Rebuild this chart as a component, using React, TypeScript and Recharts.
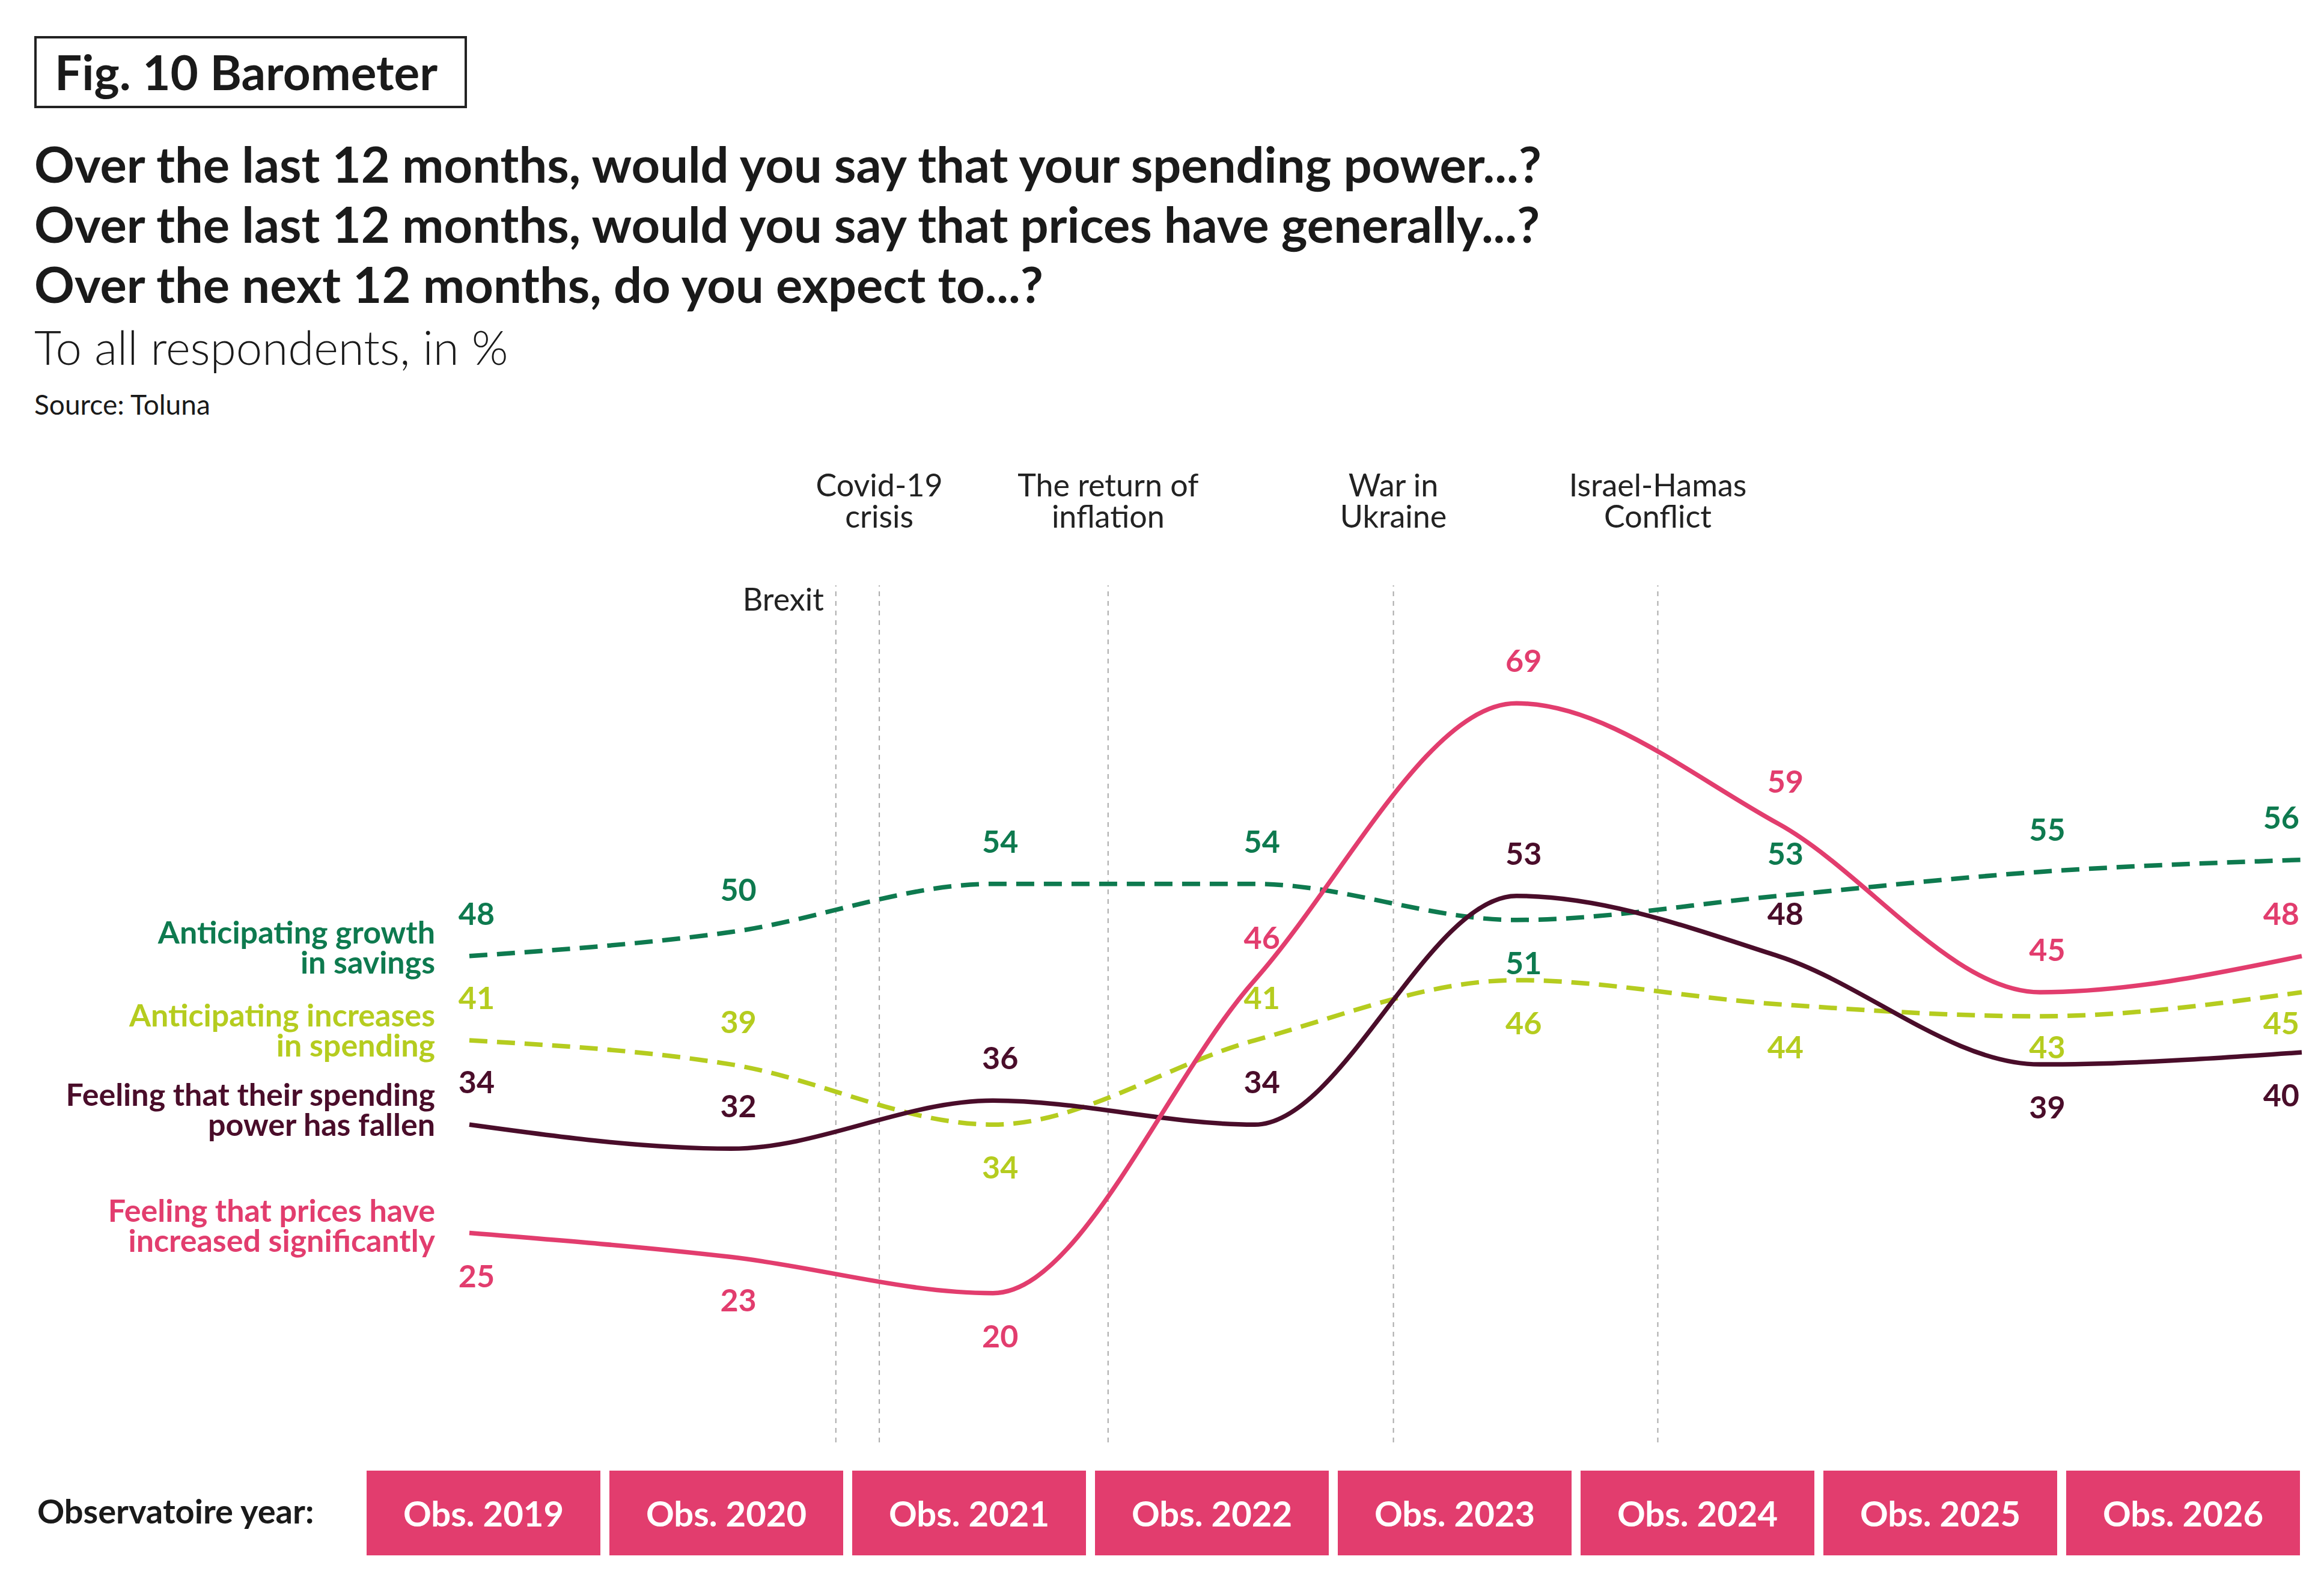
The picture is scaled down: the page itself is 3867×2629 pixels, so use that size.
import React from 'react'
import { LineChart, Line, XAxis, YAxis, ReferenceLine, LabelList } from 'recharts'

const years = ['Obs. 2019', 'Obs. 2020', 'Obs. 2021', 'Obs. 2022', 'Obs. 2023', 'Obs. 2024', 'Obs. 2025', 'Obs. 2026']
const prices = [25, 23, 20, 46, 69, 59, 45, 48]
const fallen = [34, 32, 36, 34, 53, 48, 39, 40]
const savings = [48, 50, 54, 54, 51, 53, 55, 56]
const spending = [41, 39, 34, 41, 46, 44, 43, 45]

// +1 = label above the point, -1 = below
const pricesPos = [-1, -1, -1, 1, 1, 1, 1, 1]
const fallenPos = [1, 1, 1, 1, 1, 1, -1, -1]
const savingsPos = [1, 1, 1, 1, -1, 1, 1, 1]
const spendingPos = [1, 1, -1, 1, -1, -1, -0.6, -0.6]

const events = [
  { x: 1.4, lines: ['Brexit'], low: true },
  { x: 1.566, lines: ['Covid-19', 'crisis'] },
  { x: 2.44, lines: ['The return of', 'inflation'] },
  { x: 3.53, lines: ['War in', 'Ukraine'] },
  { x: 4.54, lines: ['Israel-Hamas', 'Conflict'] },
]

const PINK = '#E23D6E'
const DARK = '#4A0D2A'
const GREEN = '#0E7A4F'
const LIME = '#B5CC1F'
const FONT = 'Lato, "Noto Sans", sans-serif'

const data = years.map((y, i) => ({
  i,
  prices: prices[i],
  fallen: fallen[i],
  savings: savings[i],
  spending: spending[i],
}))

const seriesNames = [
  { lines: ['Anticipating growth', 'in savings'], color: GREEN, top: 1525 },
  { lines: ['Anticipating increases', 'in spending'], color: LIME, top: 1663 },
  { lines: ['Feeling that their spending', 'power has fallen'], color: DARK, top: 1795 },
  { lines: ['Feeling that prices have', 'increased significantly'], color: PINK, top: 1988 },
]

const W = 3867
const H = 2629
const ML = 781
const MR = 37
const MT = 974
const MB = 229
const plotW = W - ML - MR

function makeLabel(color: string, pos: number[]) {
  return (props: any) => {
    const { x, y, value, index } = props
    const last = index === 7
    const p = pos[index]
    return (
      <text
        x={last ? x - 4 : x + 12}
        y={p > 0 ? y - 52 : y - p * 50 + 40}
        fill={color}
        fontSize={52}
        fontWeight={700}
        fontFamily={FONT}
        textAnchor={last ? 'end' : 'middle'}
      >
        {value}
      </text>
    )
  }
}

export default function App() {
  const seriesList = [
    { key: 'savings', color: GREEN, dash: '30 16', pos: savingsPos },
    { key: 'spending', color: LIME, dash: '30 16', pos: spendingPos },
    { key: 'fallen', color: DARK, dash: undefined, pos: fallenPos },
    { key: 'prices', color: PINK, dash: undefined, pos: pricesPos },
  ]
  return (
    <div style={{ position: 'absolute', left: 0, top: 0, width: W, height: H, background: '#fff', fontFamily: FONT, color: '#1a1a1a' }}>
      <div style={{ position: 'absolute', left: 57, top: 60, width: 720, height: 120, border: '4px solid #222', boxSizing: 'border-box', fontSize: 80, fontWeight: 700, lineHeight: '110px', paddingLeft: 30 }}>
        Fig. 10 Barometer
      </div>
      <div style={{ position: 'absolute', left: 57, top: 222, fontSize: 83, fontWeight: 700, lineHeight: '100px', whiteSpace: 'nowrap' }}>
        <div>Over the last 12 months, would you say that your spending power...?</div>
        <div>Over the last 12 months, would you say that prices have generally...?</div>
        <div>Over the next 12 months, do you expect to...?</div>
      </div>
      <div style={{ position: 'absolute', left: 57, top: 530, fontSize: 78, fontWeight: 300 }}>To all respondents, in %</div>
      <div style={{ position: 'absolute', left: 57, top: 645, fontSize: 46 }}>Source: Toluna</div>

      {seriesNames.map((s) => (
        <div key={s.lines[0]} style={{ position: 'absolute', right: W - 724, top: s.top, color: s.color, fontSize: 52, fontWeight: 700, lineHeight: '50px', textAlign: 'right', whiteSpace: 'nowrap' }}>
          {s.lines.map((l) => <div key={l}>{l}</div>)}
        </div>
      ))}

      {events.map((e) => {
        const cx = ML + (e.x / 7) * plotW
        return (
          <div key={e.lines[0]} style={{ position: 'absolute', left: e.low ? cx - 210 : cx - 300, width: e.low ? 190 : 600, top: e.low ? 970 : 780, textAlign: e.low ? 'right' : 'center', fontSize: 52, lineHeight: '52px', color: '#222' }}>
            {e.lines.map((l) => <div key={l}>{l}</div>)}
          </div>
        )
      })}

      <div style={{ position: 'absolute', left: 0, top: 0 }}>
        <LineChart width={W} height={H} data={data} margin={{ left: ML, right: MR, top: MT, bottom: MB }}>
          <XAxis dataKey="i" type="number" domain={[0, 7]} hide />
          <YAxis domain={[7.6, 78.8]} hide />
          {events.map((e) => (
            <ReferenceLine key={e.lines[0]} x={e.x} stroke="#aaa" strokeWidth={2} strokeDasharray="8 8" />
          ))}
          {seriesList.map((s) => (
            <Line
              key={s.key}
              dataKey={s.key}
              type="monotone"
              stroke={s.color}
              strokeWidth={7.5}
              strokeDasharray={s.dash}
              dot={false}
              isAnimationActive={false}
            >
              <LabelList dataKey={s.key} content={makeLabel(s.color, s.pos)} />
            </Line>
          ))}
        </LineChart>
      </div>

      <div style={{ position: 'absolute', left: 62, top: 2480, fontSize: 56, fontWeight: 700 }}>Observatoire year:</div>
      {years.map((y, i) => (
        <div key={y} style={{ position: 'absolute', left: 610 + i * 404, top: 2447, width: 389, height: 141, background: PINK, color: '#fff', fontSize: 58, fontWeight: 700, display: 'flex', alignItems: 'center', justifyContent: 'center' }}>
          {y}
        </div>
      ))}
    </div>
  )
}
